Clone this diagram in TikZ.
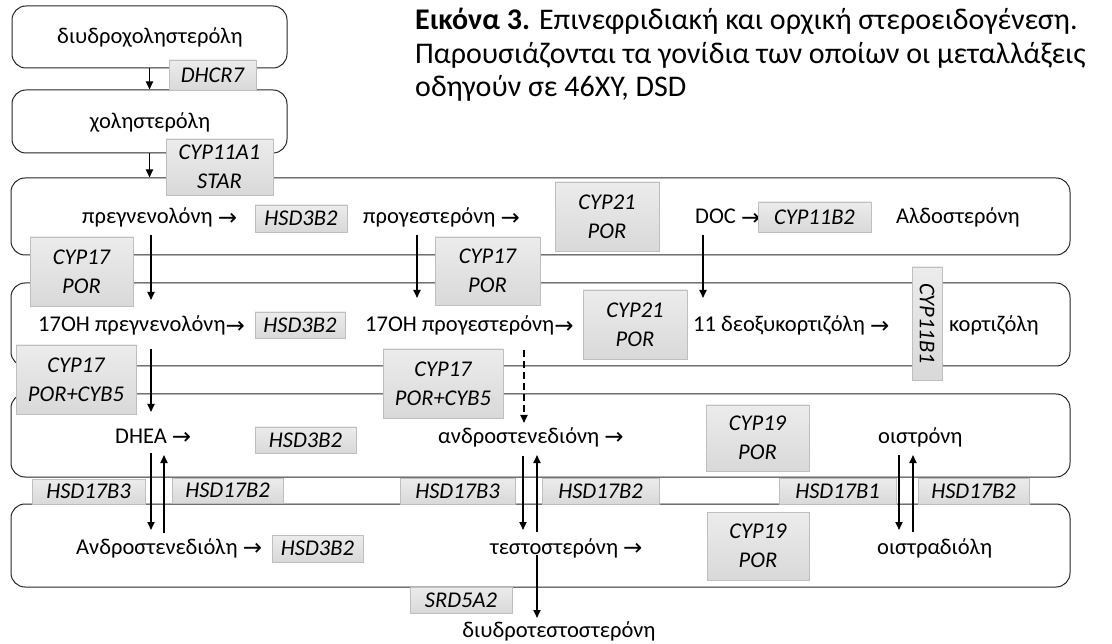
\documentclass[tikz,border=0pt]{standalone}
\usepackage{fontspec}
\setmainfont{Carlito}
\newfontfamily\arrfont{DejaVu Sans}
\usetikzlibrary{arrows.meta}
\newcommand{\rarr}{{\arrfont\fontsize{23}{24}\selectfont\raisebox{-1.5pt}{→}}}
\begin{document}
\begin{tikzpicture}[x=1pt,y=-1pt,
  band/.style={draw=black!85, line width=1pt, rounded corners=14pt, inner sep=0pt},
  lbl/.style={font=\fontsize{22.5}{27}\selectfont, inner sep=0pt, anchor=base west},
  gene/.style={draw=gray!50, line width=0.8pt, top color=gray!15, bottom color=gray!30,
    font=\itshape\fontsize{22.5}{29}\selectfont, inner sep=0pt, align=center},
  flow/.style={line width=1.8pt, -{Triangle[length=8pt,width=7pt]}},
  title/.style={font=\fontsize{30}{34}\selectfont, inner sep=0pt, anchor=base west}]
\useasboundingbox (0,0) rectangle (1112,644);
% bands
\node[band, minimum width=275pt, minimum height=62pt] (dhc) at (149.5,37) {};
\node[band, minimum width=275pt, minimum height=63pt] (chol) at (149.5,121.5) {};
\node[band, minimum width=1059pt, minimum height=77pt] (b1) at (540.5,216.5) {};
\node[band, minimum width=1059pt, minimum height=83pt] (b2) at (540.5,324.5) {};
\node[band, minimum width=1059pt, minimum height=83pt] (b3) at (540.5,435.5) {};
\node[band, minimum width=1059pt, minimum height=83pt] (b4) at (540.5,545.5) {};
% title
\node[title] (ttl1) at (415,30) {\textbf{Εικόνα 3.} Επινεφριδιακή και ορχική στεροειδογένεση.};
\node[title] (ttl2) at (415,64) {Παρουσιάζονται τα γονίδια των οποίων οι μεταλλάξεις};
\node[title] (ttl3) at (415,97) {οδηγούν σε 46XY, DSD};
% texts
\node[lbl, anchor=base] (t0) at (150,44) {διυδροχοληστερόλη};
\node[lbl, anchor=base] (t00) at (150,129) {χοληστερόλη};
\node[lbl] (preg) at (82,224) {πρεγνενολόνη \rarr};
\node[lbl] (prog) at (363,224) {προγεστερόνη \rarr};
\node[lbl] (doc) at (695,224) {DOC \rarr};
\node[lbl] (aldo) at (896,224) {Αλδοστερόνη};
\node[lbl] (ohpreg) at (38,332) {17OH πρεγνενολόνη\rarr};
\node[lbl] (ohprog) at (365,332) {17OH προγεστερόνη\rarr};
\node[lbl] (deoxy) at (693,332) {11 δεοξυκορτιζόλη \rarr};
\node[lbl] (cort) at (949,332) {κορτιζόλη};
\node[lbl] (dhea) at (115,443) {DHEA \rarr};
\node[lbl] (andro) at (438,443) {ανδροστενεδιόνη \rarr};
\node[lbl] (estr) at (878,443) {οιστρόνη};
\node[lbl] (adiol) at (76,554) {Ανδροστενεδιόλη \rarr};
\node[lbl] (testo) at (490,554) {τεστοστερόνη \rarr};
\node[lbl] (estd) at (877,554) {οιστραδιόλη};
\node[lbl, anchor=base] (dht) at (559,637) {διυδροτεστοστερόνη};
% arrow end points
\coordinate (a1s) at (151,235); \coordinate (a1e) at (151,300);
\coordinate (a2s) at (417,235); \coordinate (a2e) at (417,298);
\coordinate (a3s) at (703,235); \coordinate (a3e) at (703,298);
\coordinate (a4s) at (151,349); \coordinate (a4e) at (151,412);
\coordinate (a5s) at (524,350); \coordinate (a5e) at (524,423);
\coordinate (d1s) at (151,453); \coordinate (d1e) at (151,530);
\coordinate (u1s) at (164,533); \coordinate (u1e) at (164,455);
\coordinate (d2s) at (523,456); \coordinate (d2e) at (523,530);
\coordinate (u2s) at (537,532); \coordinate (u2e) at (537,455);
\coordinate (d3s) at (899,455); \coordinate (d3e) at (899,530);
\coordinate (u3s) at (913,532); \coordinate (u3e) at (913,455);
\coordinate (a6s) at (537,555); \coordinate (a6e) at (537,618);
% connectors
\draw[flow] (dhc.south) -- (chol.north);
\draw[flow] (chol.south) -- (chol.south |- b1.north);
\draw[flow] (a1s) -- (a1e);
\draw[flow] (a2s) -- (a2e);
\draw[flow] (a3s) -- (a3e);
\draw[flow] (a4s) -- (a4e);
\draw[flow, dash pattern=on 7pt off 4pt] (a5s) -- (a5e);
\draw[flow] (d1s) -- (d1e);
\draw[flow] (u1s) -- (u1e);
\draw[flow] (d2s) -- (d2e);
\draw[flow] (u2s) -- (u2e);
\draw[flow] (d3s) -- (d3e);
\draw[flow] (u3s) -- (u3e);
\draw[flow] (a6s) -- (a6e);
% gene boxes
\node[gene, minimum width=87pt, minimum height=30pt] (g1) at (212.5,75) {DHCR7};
\node[gene, minimum width=107pt, minimum height=56pt] (g2) at (219.5,167) {CYP11A1\\STAR};
\node[gene, minimum width=92pt, minimum height=27pt] (g3) at (301,218.5) {HSD3B2};
\node[gene, minimum width=104pt, minimum height=69pt] (g4) at (607,216.5) {CYP21\\POR};
\node[gene, minimum width=113pt, minimum height=30pt] (g5) at (814.5,217) {CYP11B2};
\node[gene, minimum width=103pt, minimum height=69pt] (g6) at (81.5,271.5) {CYP17\\POR};
\node[gene, minimum width=105pt, minimum height=68pt] (g7) at (487.5,271) {CYP17\\POR};
\node[gene, minimum width=90pt, minimum height=26pt] (g8) at (300,325) {HSD3B2};
\node[gene, minimum width=104pt, minimum height=69pt] (g9) at (635,324.5) {CYP21\\POR};
\node[gene, minimum width=30pt, minimum height=113pt] (g10) at (927,323.5) {};
\node[font=\itshape\fontsize{22.5}{27}\selectfont, rotate=-90, inner sep=0pt] (g10t) at (g10.center) {CYP11B1};
\node[gene, minimum width=120pt, minimum height=69pt] (g11) at (76,379.5) {CYP17\\POR+CYB5};
\node[gene, minimum width=120pt, minimum height=69pt] (g12) at (443,383.5) {CYP17\\POR+CYB5};
\node[gene, minimum width=101pt, minimum height=26pt] (g13) at (305.5,440) {HSD3B2};
\node[gene, minimum width=103pt, minimum height=66pt] (g14) at (757.5,438) {CYP19\\POR};
\node[gene, minimum width=113pt, minimum height=25pt] (g15) at (88.5,491.5) {HSD17B3};
\node[gene, minimum width=111pt, minimum height=25pt] (g16) at (227.5,490.5) {HSD17B2};
\node[gene, minimum width=115pt, minimum height=26pt] (g17) at (457.5,491) {HSD17B3};
\node[gene, minimum width=117pt, minimum height=26pt] (g18) at (600.5,491) {HSD17B2};
\node[gene, minimum width=117pt, minimum height=26pt] (g19) at (837.5,491) {HSD17B1};
\node[gene, minimum width=111pt, minimum height=26pt] (g20) at (973.5,491) {HSD17B2};
\node[gene, minimum width=91pt, minimum height=27pt] (g21) at (317.5,548.5) {HSD3B2};
\node[gene, minimum width=102pt, minimum height=68pt] (g22) at (758,546) {CYP19\\POR};
\node[gene, minimum width=102pt, minimum height=26pt] (g23) at (461,600) {SRD5A2};
\end{tikzpicture}
\end{document}
